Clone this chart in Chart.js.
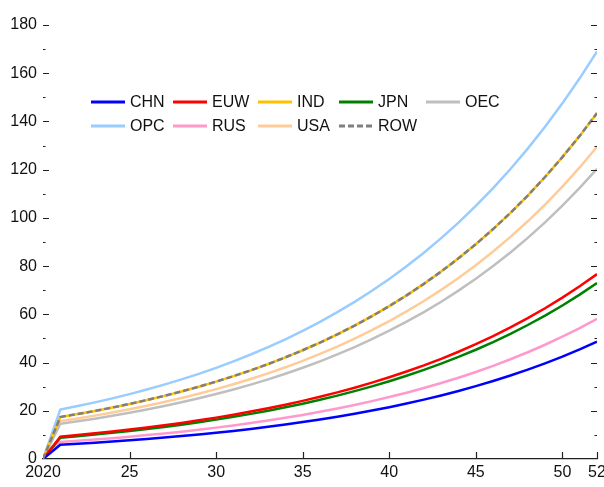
<!DOCTYPE html>
<html>
<head>
<meta charset="utf-8">
<script src="https://cdn.jsdelivr.net/npm/chart.js@4.4.1/dist/chart.umd.min.js"></script>
<style>
  html, body { margin: 0; padding: 0; background: #fff; }
  #wrap { position: relative; width: 604px; height: 487px; }
</style>
</head>
<body>
<div id="wrap"><canvas id="chart"></canvas></div>
<script>
// ── Data ──────────────────────────────────────────────────────
const years = [2020, 2021, 2022, 2023, 2024, 2025, 2026, 2027, 2028, 2029, 2030,
  2031, 2032, 2033, 2034, 2035, 2036, 2037, 2038, 2039, 2040, 2041, 2042, 2043,
  2044, 2045, 2046, 2047, 2048, 2049, 2050, 2051, 2052];

const chn = [0, 5.9, 6.32, 6.76, 7.24, 7.75, 8.29, 8.88, 9.5, 10.17, 10.89, 11.65,
  12.47, 13.35, 14.29, 15.3, 16.37, 17.53, 18.76, 20.08, 21.5, 23.01, 24.63, 26.37,
  28.22, 30.21, 32.34, 34.61, 37.05, 39.66, 42.45, 45.44, 48.64];
const euw = [0, 9.3, 9.95, 10.66, 11.41, 12.21, 13.07, 13.99, 14.97, 16.03, 17.16,
  18.37, 19.66, 21.04, 22.53, 24.11, 25.81, 27.63, 29.57, 31.66, 33.88, 36.27, 38.82,
  41.56, 44.49, 47.62, 50.97, 54.56, 58.4, 62.51, 66.92, 71.63, 76.67];
const ind = [0, 17.4, 18.63, 19.94, 21.34, 22.84, 24.45, 26.17, 28.02, 29.99, 32.1,
  34.36, 36.78, 39.37, 42.15, 45.11, 48.29, 51.69, 55.33, 59.23, 63.4, 67.86, 72.64,
  77.76, 83.23, 89.09, 95.37, 102.08, 109.27, 116.96, 125.2, 134.01, 143.45];
const jpn = [0, 8.85, 9.47, 10.14, 10.85, 11.62, 12.44, 13.31, 14.25, 15.25, 16.33,
  17.48, 18.71, 20.03, 21.44, 22.95, 24.56, 26.29, 28.14, 30.12, 32.24, 34.52, 36.95,
  39.55, 42.33, 45.31, 48.51, 51.92, 55.58, 59.49, 63.68, 68.16, 72.96];
const oec = [0, 14.6, 15.63, 16.73, 17.91, 19.17, 20.52, 21.96, 23.51, 25.16, 26.94,
  28.83, 30.86, 33.04, 35.36, 37.85, 40.52, 43.37, 46.43, 49.7, 53.2, 56.94, 60.95,
  65.24, 69.84, 74.75, 80.02, 85.65, 91.69, 98.14, 105.05, 112.45, 120.37];
const opc = [0, 20.5, 21.94, 23.49, 25.14, 26.91, 28.81, 30.84, 33.01, 35.33, 37.82,
  40.49, 43.34, 46.39, 49.65, 53.15, 56.89, 60.9, 65.19, 69.78, 74.69, 79.95, 85.58,
  91.61, 98.06, 104.96, 112.36, 120.27, 128.74, 137.8, 147.51, 157.89, 169.01];
const rus = [0, 7.05, 7.55, 8.08, 8.65, 9.26, 9.91, 10.61, 11.35, 12.15, 13.01,
  13.92, 14.9, 15.95, 17.08, 18.28, 19.57, 20.94, 22.42, 24.0, 25.69, 27.5, 29.43,
  31.5, 33.72, 36.1, 38.64, 41.36, 44.27, 47.39, 50.73, 54.3, 58.12];
const usa = [0, 15.7, 16.81, 17.99, 19.26, 20.61, 22.06, 23.62, 25.28, 27.06, 28.97,
  31.01, 33.19, 35.53, 38.03, 40.71, 43.57, 46.64, 49.92, 53.44, 57.2, 61.23, 65.54,
  70.16, 75.1, 80.39, 86.05, 92.11, 98.59, 105.54, 112.97, 120.92, 129.44];
const row = ind.slice();

const xTicks = [2020, 2025, 2030, 2035, 2040, 2045, 2050, 2052];
const yMinorTicks = [10, 30, 50, 70, 90, 110, 130, 150, 170];

// ── Series styling ─────────────────────────────────────────────
const series = [
  { label: 'CHN', data: chn, color: '#0000ff' },
  { label: 'EUW', data: euw, color: '#ff0000' },
  { label: 'IND', data: ind, color: '#ffc000' },
  { label: 'JPN', data: jpn, color: '#008000' },
  { label: 'OEC', data: oec, color: '#bfbfbf' },
  { label: 'OPC', data: opc, color: '#99ccff' },
  { label: 'RUS', data: rus, color: '#ff99cc' },
  { label: 'USA', data: usa, color: '#ffcc99' },
  { label: 'ROW', data: row, color: '#7f7f7f', dash: [6, 3] },
];

const FONT = "'Liberation Sans', Arial, sans-serif";
const FSIZE = 16;

// ── Inner ticks + legend, drawn over the plot ──────────────────
const decorPlugin = {
  id: 'decor',
  afterDraw(chart) {
    const { ctx, chartArea: a, scales: { x, y } } = chart;
    ctx.save();
    ctx.strokeStyle = '#222';
    ctx.lineWidth = 1.2;
    ctx.beginPath();
    // y ticks, both sides, pointing inward
    for (let v = 20; v <= 180; v += 20) {
      const py = Math.round(y.getPixelForValue(v)) + 0.5;
      ctx.moveTo(a.left, py); ctx.lineTo(a.left + 6, py);
      ctx.moveTo(a.right - 6, py); ctx.lineTo(a.right, py);
    }
    yMinorTicks.forEach(v => {
      const py = Math.round(y.getPixelForValue(v)) + 0.5;
      ctx.moveTo(a.left, py); ctx.lineTo(a.left + 2.5, py);
      ctx.moveTo(a.right - 2.5, py); ctx.lineTo(a.right, py);
    });
    // x ticks pointing up
    xTicks.slice(1).forEach(v => {
      const px = Math.round(x.getPixelForValue(v)) + 0.5;
      ctx.moveTo(px, a.bottom); ctx.lineTo(px, a.bottom - 7);
    });
    ctx.stroke();

    // legend: 5 columns, 2 rows
    const colX = [48, 130, 215, 296, 383];
    const rowY = [102, 126];
    ctx.font = FSIZE + 'px ' + FONT;
    ctx.textBaseline = 'middle';
    ctx.fillStyle = '#111';
    series.forEach((s, i) => {
      const lx = a.left + colX[i % 5];
      const ly = rowY[Math.floor(i / 5)];
      ctx.strokeStyle = s.color;
      ctx.lineWidth = 3;
      ctx.setLineDash(s.dash || []);
      ctx.beginPath();
      ctx.moveTo(lx, ly); ctx.lineTo(lx + 34, ly);
      ctx.stroke();
      ctx.setLineDash([]);
      ctx.fillText(s.label, lx + 39, ly + 1);
    });
    ctx.restore();
  }
};

new Chart(document.getElementById('chart'), {
  type: 'line',
  data: {
    datasets: series.map(s => ({
      label: s.label,
      data: years.map((yr, i) => ({ x: yr, y: s.data[i] })),
      borderColor: s.color,
      backgroundColor: s.color,
      borderWidth: 2.5,
      borderDash: s.dash || [],
      pointRadius: 0,
      tension: 0,
      order: s.label === 'ROW' ? 0 : 1,
    }))
  },
  options: {
    responsive: true,
    maintainAspectRatio: false,
    animation: false,
    layout: { padding: { top: 25, right: 7, left: 0, bottom: 0 } },
    plugins: {
      legend: { display: false },
      tooltip: { enabled: false },
    },
    scales: {
      x: {
        type: 'linear',
        min: 2020,
        max: 2052,
        afterBuildTicks: scale => { scale.ticks = xTicks.map(v => ({ value: v })); },
        afterFit: scale => { scale.height = 28; scale.paddingLeft = 0; scale.paddingRight = 0; },
        grid: { display: false, drawTicks: false },
        border: { display: true, color: '#222', width: 1.3 },
        ticks: {
          autoSkip: false,
          maxRotation: 0,
          padding: 4,
          color: '#111',
          font: { family: FONT, size: FSIZE },
          callback: v => v === 2020 ? '2020' : String(v).slice(2),
        },
      },
      y: {
        min: 0,
        max: 180,
        afterFit: scale => { scale.width = 43; },
        grid: { display: false, drawTicks: false },
        border: { display: false },
        ticks: {
          stepSize: 20,
          padding: 6,
          color: '#111',
          font: { family: FONT, size: FSIZE },
        },
      },
    },
  },
  plugins: [decorPlugin],
});
</script>
</body>
</html>
